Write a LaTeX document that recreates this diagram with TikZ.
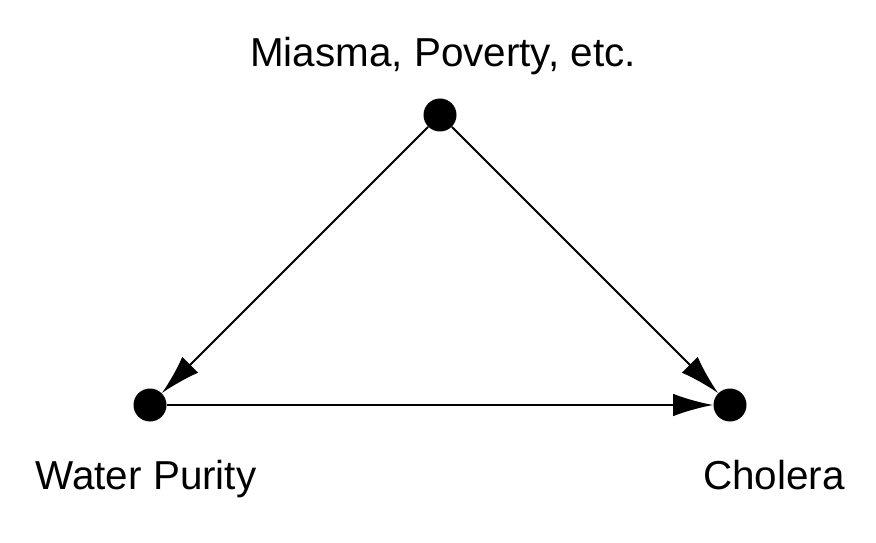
\documentclass[tikz,border=0pt]{standalone}
\usepackage{fontspec}
\setmainfont{Liberation Sans}
\usetikzlibrary{arrows.meta}
\tikzset{
    dot/.style={
        circle,
        fill=black,
        inner sep=0pt,
        minimum size=0.66cm
    },
    vartext/.style={
        anchor=base,
        font=\fontsize{23}{28}\selectfont
    },
    every edge/.append style={
        draw,
        -{Latex[length=0.8cm,width=0.45cm]},
        line width=1.1pt
    }
}
\begin{document}
\begin{tikzpicture}
    \useasboundingbox (0,0) rectangle (17.52,-10.86);
                \node[dot] (miasma) at (8.8,-2.3) {};
                \node[dot] (water) at (3.0,-8.1) {};
                \node[dot] (cholera) at (14.6,-8.1) {};

                \node[vartext] (miasmatext) at (8.86,-1.34) {Miasma, Poverty, etc.};
                \node[vartext] (watertext) at (2.92,-9.78) {Water Purity};
                \node[vartext] (choleratext) at (15.48,-9.78) {Cholera};

                \draw (miasma) edge (water);
                \draw (miasma) edge (cholera);
                \draw (water) edge (cholera);
            \end{tikzpicture}
\end{document}
